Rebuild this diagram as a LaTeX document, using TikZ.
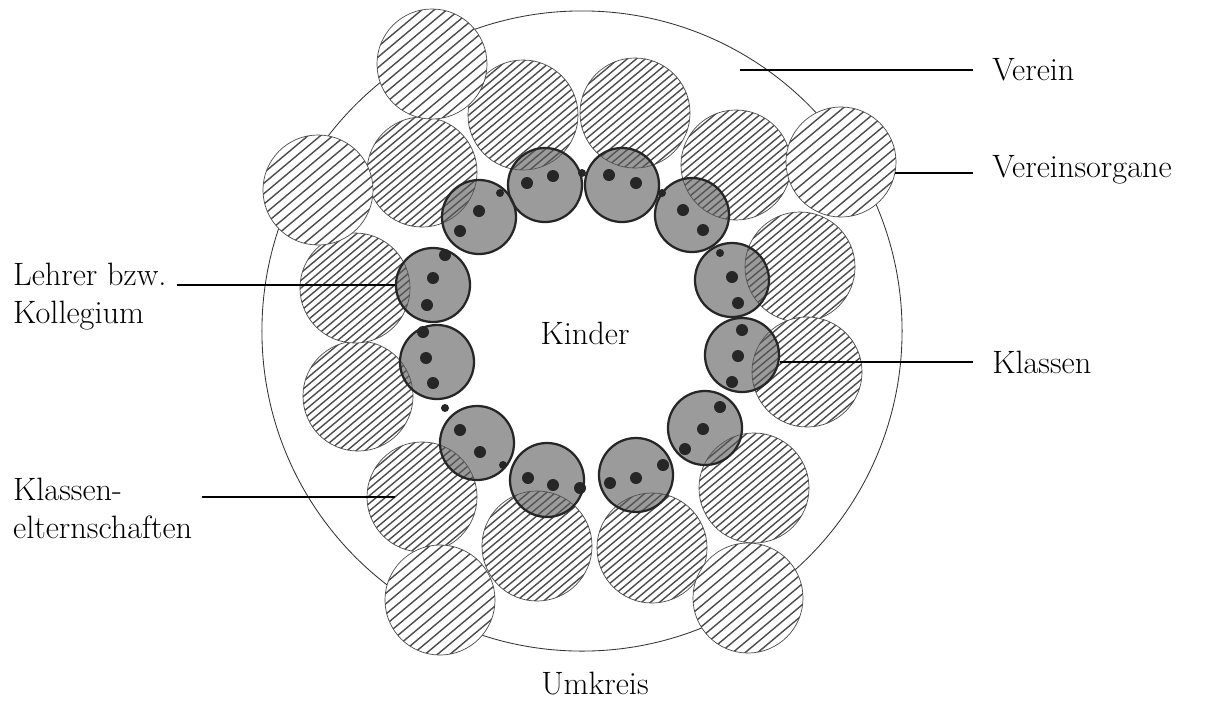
\documentclass[tikz,border=0pt]{standalone}
\usepackage{tikz}
\usetikzlibrary{calc}

\begin{document}
\begin{tikzpicture}[
    x=0.025cm, y=-0.025cm,
    ring/.style={circle, draw=black!80, line width=0.6pt, minimum size=16cm, inner sep=0pt},
    schraffur/.style={circle, draw=black!70, line width=0.5pt, fill=white, minimum size=2.75cm, inner sep=0pt,
        path picture={\foreach \k in {-17,...,17}
            \draw[line width=1pt] ($(path picture bounding box.center)+({\k*#1*0.643-80*0.766},{\k*#1*0.766+80*0.643})$) -- ++(122.6,-102.9);}},
    elternkreis/.style={schraffur=5.8},
    organ/.style={schraffur=8},
    klasse/.style={circle, draw=black!85, line width=1.6pt, fill=black!65, fill opacity=0.6, minimum size=1.85cm, inner sep=0pt},
    kind/.style={circle, fill=black!85, minimum size=0.3cm, inner sep=0pt},
    fuge/.style={circle, fill=black!85, minimum size=0.2cm, inner sep=0pt},
    labeltext/.style={font=\fontsize{23}{27}\selectfont, align=left, inner ysep=1pt},
    line/.style={line width=1.4pt}
]
\useasboundingbox (0,0) rectangle (1213,700);

% Verein as the outer ring
\node[ring] (verein-ring) at (582,331) {};

% Klassenelternschaften round the classes
\foreach \n/\x/\y in {1/422/172, 2/523/115, 3/635/113, 4/736/165, 5/800/267, 6/807/372,
                      7/754/488, 8/652/548, 9/537/546, 10/422/497, 11/358/396, 12/355/288}
    \node[elternkreis] (e\n) at (\x,\y) {};

% Vereinsorgane on the ring
\foreach \n/\x/\y in {1/432/64, 2/318/190, 3/841/162, 4/440/600, 5/748/598}
    \node[organ] (v\n) at (\x,\y) {};

% Klassen
\foreach \n/\x/\y in {1/545/185, 2/622/185, 3/692/215, 4/732/280, 5/742/355, 6/705/428,
                      7/636/475, 8/547/480, 9/477/443, 10/437/362, 11/433/285, 12/479/217}
    \node[klasse] (k\n) at (\x,\y) {};

% Lehrer as dots in the classes
\foreach \x/\y [count=\i] in {527/183, 553/176, 609/175, 636/183, 683/210, 703/230,
        732/277, 738/303, 742/330, 738/356, 732/382, 720/407, 703/429, 685/449,
        663/465, 636/478, 610/483, 580/488, 553/485, 528/478, 460/430, 480/452,
        423/332, 426/358, 433/383, 445/255, 433/278, 427/305, 479/211, 460/231}
    \node[kind] (d\i) at (\x,\y) {};
\foreach \x/\y [count=\i] in {582/173, 662/193, 720/253, 445/408, 503/465, 500/193}
    \node[fuge] (f\i) at (\x,\y) {};

\node[labeltext] (kinder) at (585,333) {Kinder};

% Labels on the right
\node[labeltext, anchor=west, inner xsep=13.5pt] (verein) at (973,70) {Verein};
\node[labeltext, anchor=west, inner xsep=13.5pt] (organe) at (973,170) {Vereinsorgane};
\node[labeltext, anchor=west, inner xsep=13.5pt] (klassen) at (973,362) {Klassen};

% Labels on the left
\node[labeltext, anchor=west, inner xsep=7pt] (lehrer) at (3,297) {Lehrer bzw.\\Kollegium};
\node[labeltext, anchor=west, inner xsep=7pt] (eltern) at (3,508) {Klassen-\\elternschaften};
\node[labeltext] (umkreis) at (595,684) {Umkreis};

\coordinate (verein-pt) at (740,70);
\coordinate (eltern-pt) at ($(e10.center)+(-27,0)$);

\draw[line] (verein-pt) -- (verein.west);
\draw[line] (v3.-11) -- (v3.-11 -| organe.west);
\draw[line] (k5.-10) -- (k5.-10 -| klassen.west);
\draw[line] (lehrer.east |- k11.west) -- (k11.west);
\draw[line] (eltern.east |- eltern-pt) -- (eltern-pt);

\end{tikzpicture}
\end{document}
